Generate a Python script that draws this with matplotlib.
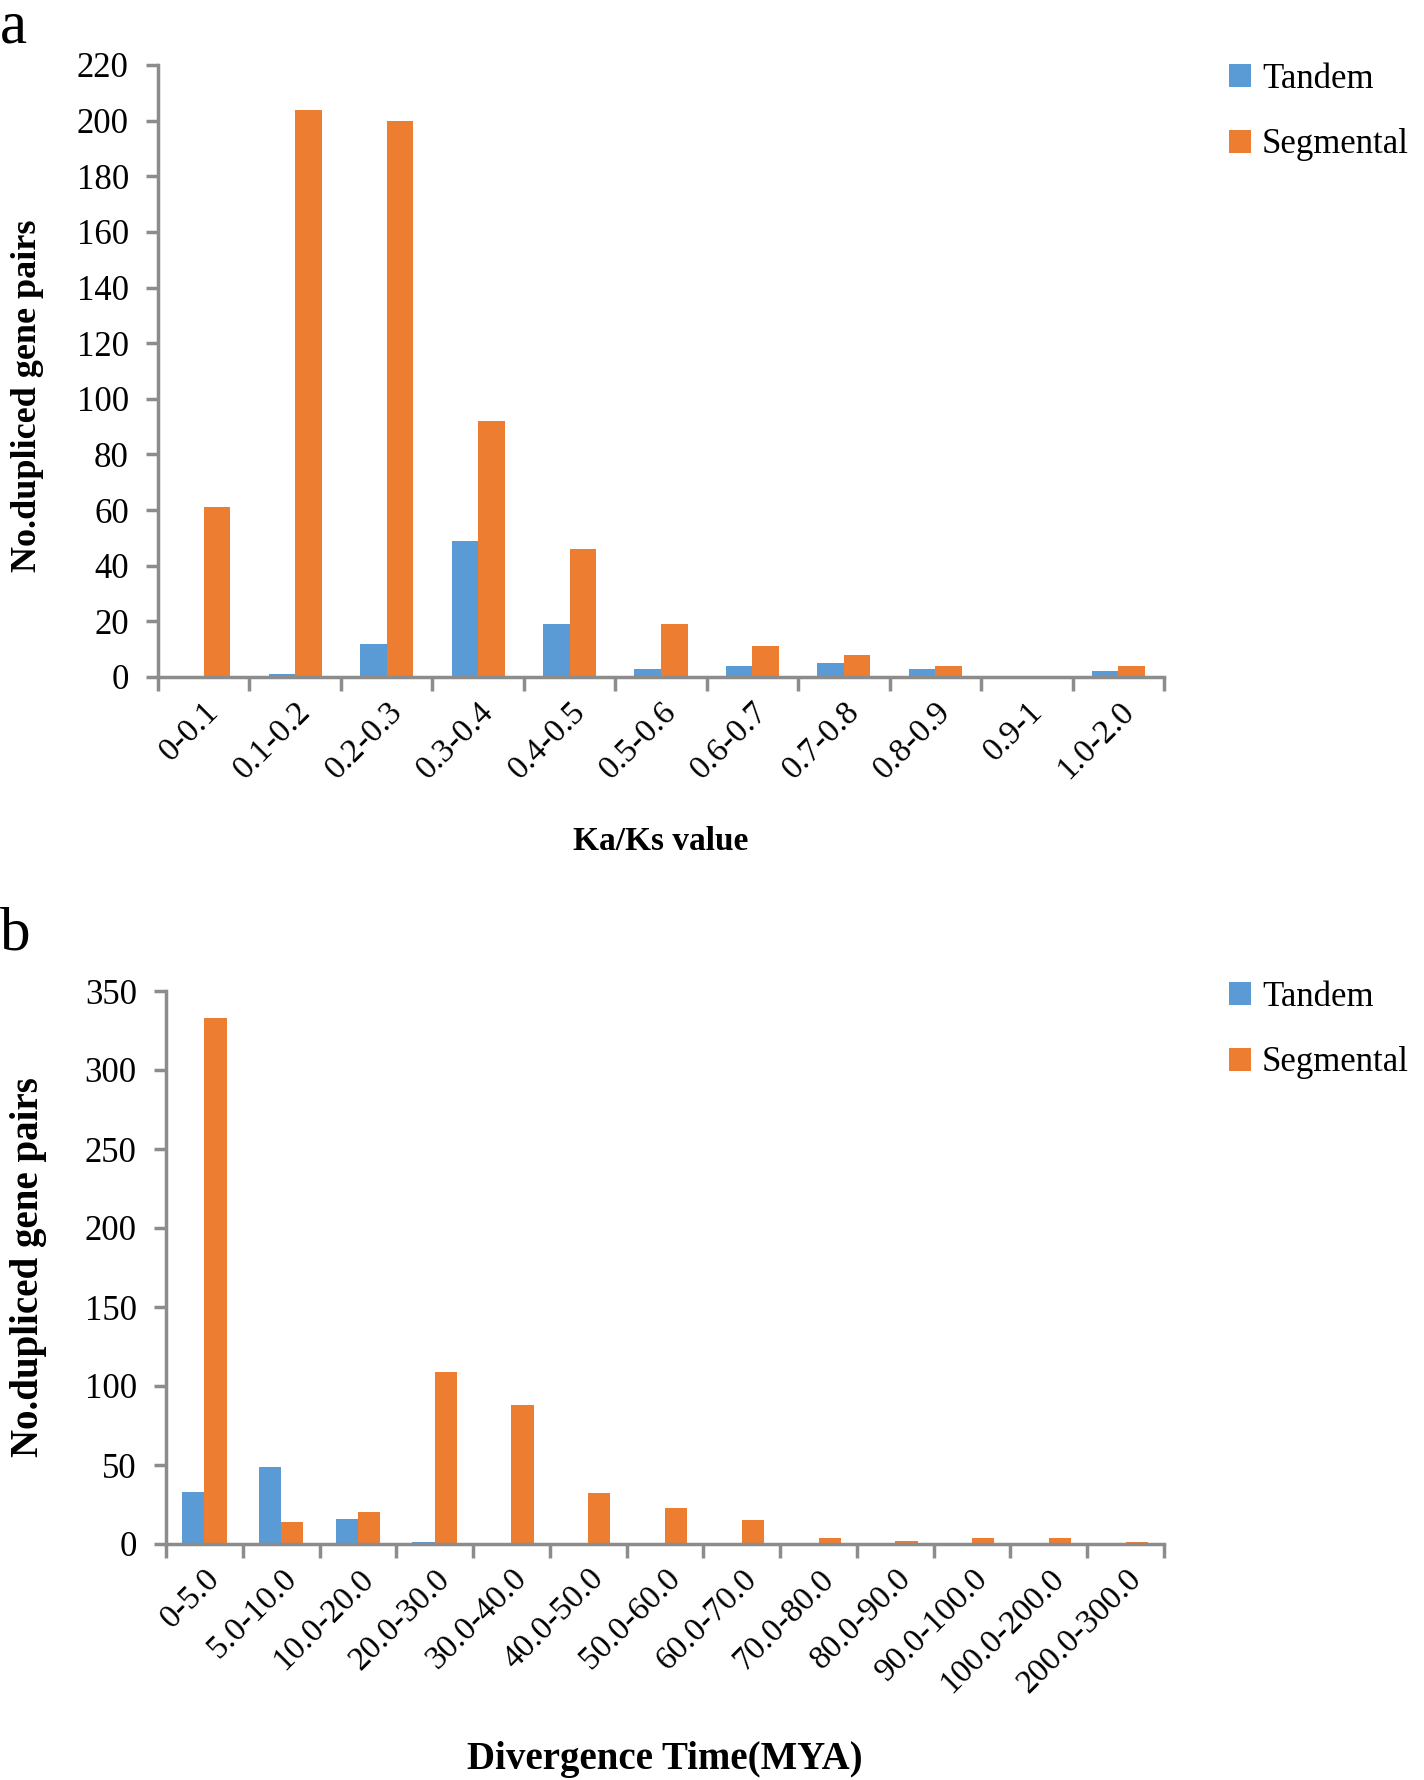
import numpy as np
import matplotlib
matplotlib.use("Agg")
import matplotlib.pyplot as plt
import matplotlib.transforms as mtransforms

# ---- data ----
ka_ks_categories = ["0-0.1", "0.1-0.2", "0.2-0.3", "0.3-0.4", "0.4-0.5", "0.5-0.6",
                    "0.6-0.7", "0.7-0.8", "0.8-0.9", "0.9-1", "1.0-2.0"]
ka_ks_tandem = [0, 1, 12, 49, 19, 3, 4, 5, 3, 0, 2]
ka_ks_segmental = [61, 204, 200, 92, 46, 19, 11, 8, 4, 0, 4]

div_categories = ["0-5.0", "5.0-10.0", "10.0-20.0", "20.0-30.0", "30.0-40.0", "40.0-50.0",
                  "50.0-60.0", "60.0-70.0", "70.0-80.0", "80.0-90.0", "90.0-100.0",
                  "100.0-200.0", "200.0-300.0"]
div_tandem = [33, 49, 16, 1, 0, 0, 0, 0, 0, 0, 0, 0, 0]
div_segmental = [333, 14, 20, 109, 88, 32, 23, 15, 4, 2, 4, 4, 1]

series_names = ["Tandem", "Segmental"]
colors = ["#5B9BD5", "#ED7D31"]
axis_gray = "#8C8C8C"

plt.rcParams['font.family'] = ['Liberation Serif', 'DejaVu Serif']

W, H = 1424, 1780
fig = plt.figure(figsize=(W / 100, H / 100), dpi=100)


def draw_panel(rect, cats, tandem, segmental, ymax, ystep, bar_w, xlabel, xlabel_y,
               xlabel_size, legend_y, letter, letter_y, ylabel_x, ylabel_y, ylabel_size):
    ax = fig.add_axes(rect)
    n = len(cats)
    x = np.arange(n)
    ax.bar(x - bar_w / 2, tandem, width=bar_w, color=colors[0], label=series_names[0])
    ax.bar(x + bar_w / 2, segmental, width=bar_w, color=colors[1], label=series_names[1])
    ax.set_xlim(-0.5, n - 0.5)
    ax.set_ylim(0, ymax)
    ax.set_yticks(np.arange(0, ymax + 1, ystep))
    ax.tick_params(axis='y', direction='out', length=9, width=2.5, color=axis_gray,
                   labelsize=25, pad=12)
    # boundaries as major ticks, labels on minor ticks at centers
    ax.set_xticks(np.arange(n + 1) - 0.5)
    ax.set_xticklabels([])
    ax.set_xticks(x, minor=True)
    ax.set_xticklabels(cats, minor=True, rotation=45, ha='right', va='top',
                       rotation_mode='anchor', fontsize=24)
    ax.tick_params(axis='x', which='major', direction='out', length=10, width=2.5,
                   color=axis_gray)
    ax.tick_params(axis='x', which='minor', length=0, pad=14)
    for s in ['top', 'right']:
        ax.spines[s].set_visible(False)
    for s in ['left', 'bottom']:
        ax.spines[s].set_color(axis_gray)
        ax.spines[s].set_linewidth(2.5)
    ax.set_ylabel("No.dupliced gene pairs", fontsize=ylabel_size, fontweight='bold', va='center')
    ax.yaxis.set_label_coords(ylabel_x, ylabel_y,
                              transform=mtransforms.blended_transform_factory(fig.transFigure, ax.transAxes))
    ax.set_xlabel(xlabel, fontsize=xlabel_size, fontweight='bold')
    ax.xaxis.set_label_coords(0.5, xlabel_y,
                              transform=mtransforms.blended_transform_factory(ax.transAxes, fig.transFigure))
    ax.xaxis.label.set_va('center')
    ax.legend(loc='center left', bbox_to_anchor=(0.863, legend_y), bbox_transform=fig.transFigure,
              frameon=False, fontsize=25, handlelength=0.65, handleheight=0.65,
              handletextpad=0.3, labelspacing=0.95, borderpad=0, borderaxespad=0)
    fig.text(0.0, letter_y, letter, fontsize=44, va='top', ha='left')
    return ax


draw_panel([158 / W, 1 - 677 / H, (1164 - 158) / W, (677 - 65) / H],
           ka_ks_categories, ka_ks_tandem, ka_ks_segmental, 220, 20, 0.29,
           "Ka/Ks value", 1 - 841 / H, 24, 1 - 112 / H, "a", 1.0, 0.019, 0.46, 26)

draw_panel([166 / W, 1 - 1544 / H, (1164 - 166) / W, (1544 - 991) / H],
           div_categories, div_tandem, div_segmental, 350, 50, 0.29,
           "Divergence Time(MYA)", 1 - 1760 / H, 28, 1 - 1030 / H, "b", 1 - 907 / H, 0.02, 0.5, 28)

fig.savefig("out.png", dpi=100)
